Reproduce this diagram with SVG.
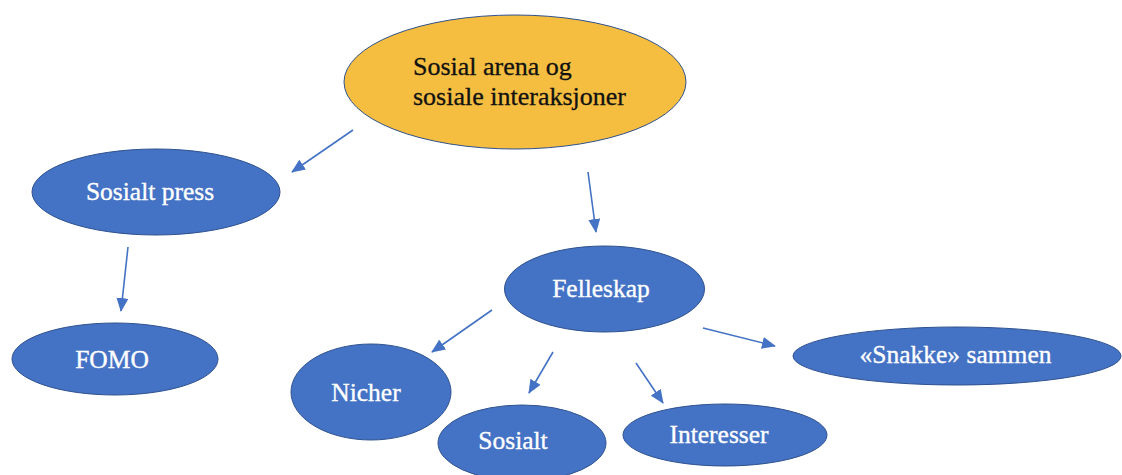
<svg xmlns="http://www.w3.org/2000/svg" width="1122" height="475" viewBox="0 0 1122 475">
<style>
.blue{fill:#4472C4;stroke:#2F528F;stroke-width:1}
.gold{fill:#F5BE41;stroke:#2F528F;stroke-width:1}
.wt{font-family:"Liberation Serif","Times New Roman",serif;font-size:25.5px;fill:#FFFFFF;stroke:#FFFFFF;stroke-width:0.35;text-anchor:middle}
.bt{font-family:"Liberation Serif","Times New Roman",serif;font-size:26px;fill:#111111;stroke:#111111;stroke-width:0.3}
.conn line{stroke:#4472C4;stroke-width:1.6;fill:none;marker-end:url(#ah)}
</style>
<defs>
<marker id="ah" markerUnits="userSpaceOnUse" markerWidth="14" markerHeight="12" viewBox="0 0 14 12" refX="13" refY="6" orient="auto">
<path d="M0,0 L14,6 L0,12 Z" fill="#4472C4"/>
</marker>
</defs>
<rect width="1122" height="475" fill="#FFFFFF"/>
<g class="conn">
<line x1="353" y1="130" x2="292" y2="172"/>
<line x1="128" y1="247" x2="121" y2="311"/>
<line x1="588" y1="172" x2="596" y2="232"/>
<line x1="492" y1="310" x2="432" y2="352"/>
<line x1="553" y1="352" x2="529" y2="393"/>
<line x1="636" y1="363" x2="663" y2="403"/>
<line x1="703" y1="328" x2="775" y2="346"/>
</g>
<g id="n-top">
<ellipse class="gold" cx="515" cy="82" rx="171" ry="67"/>
<text class="bt" x="413" y="75">Sosial arena og</text>
<text class="bt" x="413" y="105">sosiale interaksjoner</text>
</g>
<g id="n-press">
<ellipse class="blue" cx="156" cy="192" rx="124" ry="43"/>
<text class="wt" x="150" y="200">Sosialt press</text>
</g>
<g id="n-fomo">
<ellipse class="blue" cx="115" cy="359" rx="103" ry="36"/>
<text class="wt" x="112" y="368">FOMO</text>
</g>
<g id="n-felleskap">
<ellipse class="blue" cx="604.5" cy="289" rx="100" ry="43"/>
<text class="wt" x="601" y="297">Felleskap</text>
</g>
<g id="n-nicher">
<ellipse class="blue" cx="371" cy="392" rx="80" ry="48"/>
<text class="wt" x="366" y="401">Nicher</text>
</g>
<g id="n-sosialt">
<ellipse class="blue" cx="522" cy="443" rx="84" ry="38"/>
<text class="wt" x="513" y="449">Sosialt</text>
</g>
<g id="n-interesser">
<ellipse class="blue" cx="725" cy="435" rx="102" ry="31"/>
<text class="wt" x="719" y="443">Interesser</text>
</g>
<g id="n-snakke">
<ellipse class="blue" cx="957" cy="356" rx="164" ry="29"/>
<text class="wt" x="955.5" y="363">«Snakke» sammen</text>
</g>
</svg>
